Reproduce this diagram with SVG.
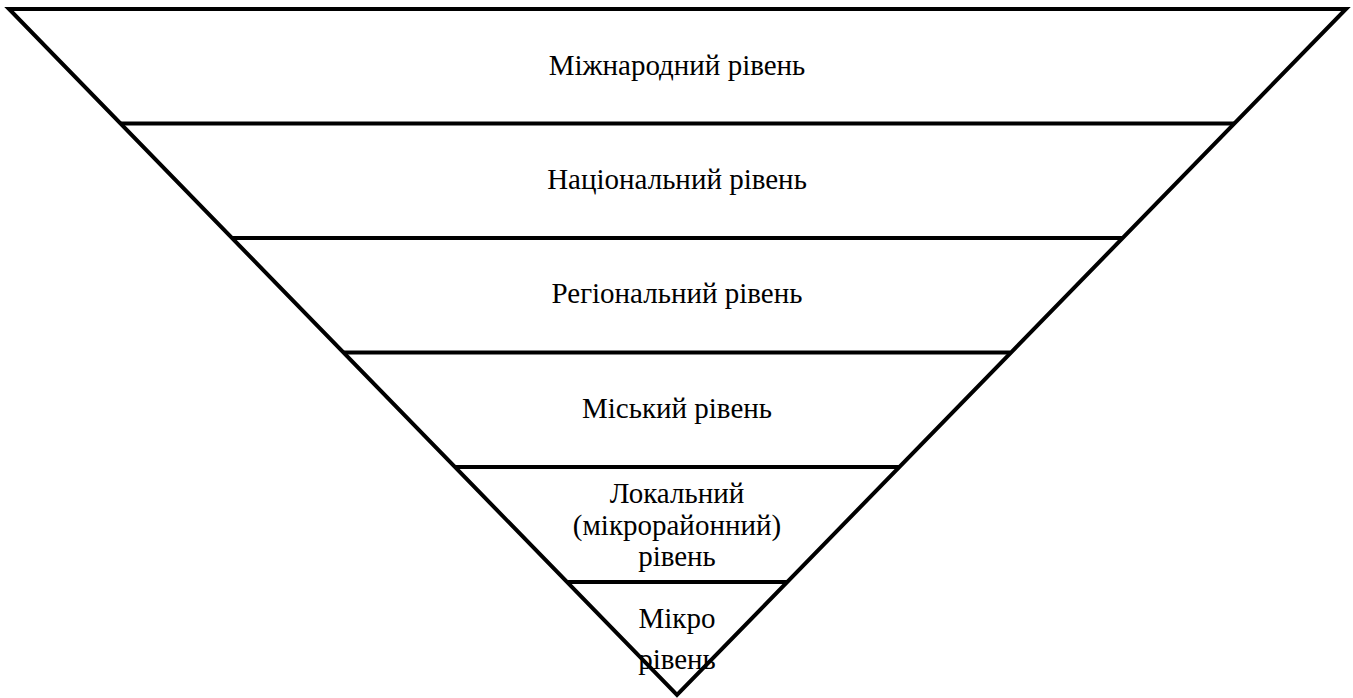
<svg xmlns="http://www.w3.org/2000/svg" width="1353" height="698" viewBox="0 0 1353 698">
<style>
.ln{stroke:#000;stroke-width:4;fill:none;stroke-linecap:butt}
.t{font-family:'Liberation Serif','Times New Roman',Tinos,'DejaVu Serif',serif;font-size:29px;fill:#000;text-anchor:middle}
</style>
<rect width="1353" height="698" fill="#fff"/>
<g id="connectors">
<polygon class="ln" points="9,9 1346,9 677,695" stroke-linejoin="miter"/>
<line class="ln" x1="120" y1="123.5" x2="1234" y2="123.5"/>
<line class="ln" x1="232" y1="238" x2="1122" y2="238"/>
<line class="ln" x1="344" y1="352.5" x2="1010" y2="352.5"/>
<line class="ln" x1="455" y1="467" x2="899" y2="467"/>
<line class="ln" x1="567" y1="582" x2="788" y2="582"/>
</g>
<g id="n1"><text class="t" x="677" y="75">Міжнародний рівень</text></g>
<g id="n2"><text class="t" x="677" y="189">Національний рівень</text></g>
<g id="n3"><text class="t" x="677" y="303">Регіональний рівень</text></g>
<g id="n4"><text class="t" x="677" y="418">Міський рівень</text></g>
<g id="n5"><text class="t" x="677" y="503">Локальний</text><text class="t" x="677" y="535">(мікрорайонний)</text><text class="t" x="677" y="566">рівень</text></g>
<g id="n6"><text class="t" x="677" y="628">Мікро</text><text class="t" x="677" y="669">рівень</text></g>
</svg>
